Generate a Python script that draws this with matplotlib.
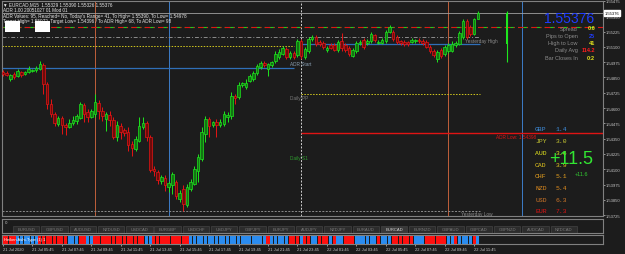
import numpy as np
import pandas as pd
import matplotlib
matplotlib.use("Agg")
import matplotlib.pyplot as plt
from matplotlib.patches import Rectangle

W, H = 625, 255
BG = "#1c1c1c"

# ---------------- data ----------------
bar_times = pd.date_range("2020-07-21 03:45", periods=130, freq="15min")
opens = [
    1.54895, 1.54886, 1.54837, 1.54878, 1.54862, 1.54895, 1.54878, 1.54895, 1.54903, 1.54911,
    1.54919, 1.54952, 1.54797, 1.54633, 1.54551, 1.54470, 1.54519, 1.54462, 1.54445, 1.54478,
    1.54494, 1.54519, 1.54625, 1.54568, 1.54527, 1.54551, 1.54641, 1.54576, 1.54511, 1.54543,
    1.54502, 1.54364, 1.54453, 1.54421, 1.54404, 1.54306, 1.54265, 1.54331, 1.54445, 1.54478,
    1.54364, 1.54102, 1.54078, 1.54004, 1.54029, 1.53955, 1.53971, 1.53996, 1.53857, 1.53939,
    1.53808, 1.53939, 1.53980, 1.54086, 1.54184, 1.54388, 1.54511, 1.54462, 1.54486, 1.54462,
    1.54470, 1.54527, 1.54535, 1.54699, 1.54690, 1.54788, 1.54772, 1.54821, 1.54837, 1.54886,
    1.54935, 1.54968, 1.54919, 1.54952, 1.54984, 1.55017, 1.55042, 1.55082, 1.55017, 1.55050,
    1.55033, 1.55148, 1.55017, 1.55066, 1.55164, 1.55181, 1.55140, 1.55132, 1.55074, 1.55115,
    1.55115, 1.55074, 1.55148, 1.55115, 1.55091, 1.55025, 1.55066, 1.55132, 1.55156, 1.55132,
    1.55148, 1.55197, 1.55132, 1.55132, 1.55148, 1.55221, 1.55221, 1.55181, 1.55148, 1.55140,
    1.55140, 1.55140, 1.55148, 1.55156, 1.55148, 1.55140, 1.55099, 1.55066, 1.55001, 1.55074,
    1.55042, 1.55066, 1.55066, 1.55115, 1.55123, 1.55181, 1.55311, 1.55262, 1.55205, 1.55329]
highs = [
    1.54911, 1.54903, 1.54878, 1.54895, 1.54919, 1.54903, 1.54903, 1.54944, 1.54919, 1.54944,
    1.54984, 1.54968, 1.54813, 1.54674, 1.54568, 1.54535, 1.54535, 1.54478, 1.54511, 1.54535,
    1.54551, 1.54649, 1.54641, 1.54592, 1.54592, 1.54715, 1.54666, 1.54609, 1.54568, 1.54576,
    1.54527, 1.54494, 1.54478, 1.54437, 1.54445, 1.54331, 1.54372, 1.54527, 1.54527, 1.54494,
    1.54380, 1.54127, 1.54094, 1.54053, 1.54053, 1.54004, 1.54078, 1.54012, 1.53931, 1.53971,
    1.53980, 1.54020, 1.54127, 1.54225, 1.54445, 1.54535, 1.54527, 1.54494, 1.54511, 1.54511,
    1.54576, 1.54568, 1.54731, 1.54715, 1.54813, 1.54813, 1.54837, 1.54878, 1.54903, 1.54960,
    1.54984, 1.54984, 1.54968, 1.54984, 1.55066, 1.55082, 1.55107, 1.55099, 1.55066, 1.55066,
    1.55164, 1.55164, 1.55099, 1.55181, 1.55197, 1.55197, 1.55156, 1.55148, 1.55107, 1.55132,
    1.55132, 1.55156, 1.55213, 1.55132, 1.55107, 1.55091, 1.55148, 1.55156, 1.55172, 1.55164,
    1.55221, 1.55205, 1.55156, 1.55172, 1.55238, 1.55279, 1.55238, 1.55197, 1.55156, 1.55156,
    1.55148, 1.55172, 1.55164, 1.55172, 1.55164, 1.55156, 1.55115, 1.55082, 1.55074, 1.55091,
    1.55115, 1.55132, 1.55148, 1.55148, 1.55230, 1.55328, 1.55328, 1.55279, 1.55336, 1.55390]
lows = [
    1.54862, 1.54862, 1.54821, 1.54837, 1.54854, 1.54854, 1.54870, 1.54886, 1.54895, 1.54895,
    1.54911, 1.54715, 1.54592, 1.54527, 1.54453, 1.54453, 1.54388, 1.54380, 1.54437, 1.54462,
    1.54470, 1.54511, 1.54486, 1.54486, 1.54519, 1.54527, 1.54511, 1.54494, 1.54413, 1.54453,
    1.54347, 1.54331, 1.54347, 1.54372, 1.54249, 1.54208, 1.54249, 1.54323, 1.54429, 1.54331,
    1.54078, 1.54045, 1.53980, 1.53980, 1.53922, 1.53914, 1.53898, 1.53857, 1.53832, 1.53759,
    1.53792, 1.53922, 1.53971, 1.53996, 1.54167, 1.54323, 1.54364, 1.54445, 1.54364, 1.54445,
    1.54453, 1.54486, 1.54511, 1.54633, 1.54674, 1.54772, 1.54756, 1.54813, 1.54821, 1.54870,
    1.54919, 1.54935, 1.54862, 1.54935, 1.54968, 1.55001, 1.55033, 1.55001, 1.55001, 1.55001,
    1.55017, 1.55001, 1.55001, 1.55050, 1.55148, 1.55107, 1.55107, 1.55082, 1.55058, 1.55082,
    1.55066, 1.55058, 1.55066, 1.55058, 1.55025, 1.55017, 1.55050, 1.55115, 1.55082, 1.55115,
    1.55132, 1.55140, 1.55123, 1.55123, 1.55132, 1.55213, 1.55148, 1.55123, 1.55115, 1.55107,
    1.55107, 1.55132, 1.55132, 1.55132, 1.55115, 1.55091, 1.55050, 1.55017, 1.54976, 1.55009,
    1.55025, 1.55050, 1.55058, 1.55099, 1.55115, 1.55164, 1.55164, 1.55189, 1.55197, 1.55326]
closes = [
    1.54878, 1.54870, 1.54870, 1.54854, 1.54903, 1.54870, 1.54895, 1.54919, 1.54911, 1.54927,
    1.54960, 1.54797, 1.54633, 1.54551, 1.54478, 1.54519, 1.54462, 1.54445, 1.54478, 1.54502,
    1.54535, 1.54633, 1.54551, 1.54527, 1.54576, 1.54649, 1.54576, 1.54535, 1.54551, 1.54502,
    1.54364, 1.54462, 1.54404, 1.54396, 1.54298, 1.54274, 1.54347, 1.54453, 1.54478, 1.54364,
    1.54094, 1.54086, 1.54012, 1.54037, 1.53971, 1.53988, 1.54061, 1.53882, 1.53906, 1.53816,
    1.53955, 1.53996, 1.54102, 1.54200, 1.54404, 1.54511, 1.54453, 1.54486, 1.54462, 1.54486,
    1.54551, 1.54543, 1.54699, 1.54682, 1.54788, 1.54805, 1.54805, 1.54862, 1.54886, 1.54944,
    1.54968, 1.54952, 1.54960, 1.54976, 1.55042, 1.55058, 1.55091, 1.55017, 1.55050, 1.55017,
    1.55148, 1.55025, 1.55082, 1.55164, 1.55181, 1.55123, 1.55123, 1.55099, 1.55091, 1.55091,
    1.55074, 1.55140, 1.55091, 1.55074, 1.55042, 1.55074, 1.55132, 1.55140, 1.55099, 1.55148,
    1.55205, 1.55156, 1.55140, 1.55156, 1.55221, 1.55262, 1.55164, 1.55140, 1.55132, 1.55123,
    1.55123, 1.55156, 1.55156, 1.55148, 1.55132, 1.55099, 1.55066, 1.55033, 1.55058, 1.55025,
    1.55099, 1.55115, 1.55123, 1.55132, 1.55213, 1.55311, 1.55181, 1.55205, 1.55329, 1.55376]

# daily candle drawn to the right of price
day_bar_time = "2020-07-22 14:00"
day_open, day_high, day_low, day_close = 1.55126, 1.55390, 1.54978, 1.55376

# heiken ashi colour runs (r = bearish red, b = bullish blue)
ha_runs = [("r", 4), ("b", 6), ("r", 8), ("b", 3), ("r", 2), ("b", 2), ("r", 14), ("b", 2),
           ("r", 10), ("b", 21), ("r", 1), ("b", 5), ("r", 3), ("b", 1), ("r", 2), ("b", 2),
           ("r", 3), ("b", 1), ("r", 1), ("b", 2), ("r", 3), ("b", 6), ("r", 1), ("b", 3),
           ("r", 6), ("b", 3), ("r", 6), ("b", 2), ("r", 1), ("b", 4), ("r", 1), ("b", 1)]

# levels
current_price = 1.55376
adr_high_level = 1.55262
yesterday_high = 1.55181
prev_r1 = 1.55107
prev_day_open = 1.54928
daily_pp = 1.54715
adr_low = 1.54398
yesterday_low = 1.53759

orange_times = ["2020-07-21 10:00", "2020-07-22 10:00"]
blue_times = ["2020-07-21 15:00", "2020-07-22 15:00"]
day_sep_time = "2020-07-22 00:00"
adr_low_label_time = "2020-07-22 16:00"

price_ticks = [1.53725, 1.53850, 1.53975, 1.54100, 1.54225, 1.54350, 1.54475, 1.54600,
               1.54725, 1.54850, 1.54975, 1.55100, 1.55225, 1.55350, 1.55475]

pairs = ["EURUSD", "GBPUSD", "AUDUSD", "NZDUSD", "USDCAD", "EURGBP", "USDCHF", "USDJPY",
         "GBPJPY", "EURJPY", "AUDJPY", "NZDJPY", "EURAUD", "EURCAD", "EURNZD", "GBPAUD",
         "GBPCAD", "GBPNZD", "AUDCAD", "NZDCAD"]
active_pair = "EURCAD"

ccy_names = ["GBP", "JPY", "AUD", "CAD", "CHF", "NZD", "USD", "EUR"]
ccy_values = [1.4, 3.0, 3.6, 3.9, 5.1, 5.4, 6.3, 7.3]
ccy_colors = ["#3f8fe0", "#c8c832", "#e6e61e", "#e6c81e", "#e6a01e", "#e08c1e", "#d27828", "#e01414"]

info_labels = ["Spread", "Pips to Open", "High to Low", "Daily Avg", "Bar Closes In"]
info_values = ["0.6", "25", "41", "114.2", "0:2"]
info_colors = ["#e6e61e", "#1e3cff", "#e6e61e", "#ff1e1e", "#e6e61e"]

header_lines = [
    "\u25bc EURCAD,M15  1.55329 1.55390 1.55326 1.55376",
    "ADR 1.00 20051027 01 Mod 01",
    "ADR Values: 95, Reached= No, Today's Range= 41, To High= 1.55390, To Low= 1.54978",
    "Target High= 1.55972, Target Low= 1.54396 / To ADR High= 68, To ADR Low= 98",
]

# ---------------- helpers ----------------
t0 = bar_times[0]
step = pd.Timedelta("15min")


def tindex(t):
    return (pd.Timestamp(t) - t0) / step


def fx(px):
    return px / W


def fy(py):
    return 1 - py / H


fig = plt.figure(figsize=(W / 100, H / 100), dpi=100, facecolor=BG)
XL = (-0.27, 163.0)
SPINE = "#808080"

# ---------------- main chart ----------------
ax = fig.add_axes([fx(2), fy(217), 601 / W, 215 / H])
ax.set_facecolor(BG)
ax.set_xlim(*XL)
ax.set_ylim(1.53718, 1.55475)
for s in ax.spines.values():
    s.set_color(SPINE)
    s.set_linewidth(0.8)

x = np.arange(len(opens))
o = np.array(opens); h = np.array(highs); l = np.array(lows); c = np.array(closes)
up = c >= o
wick_col = np.where(up, "#1ee61e", "#e61414")
face_col = np.where(up, "#127512", "#6e0a0a")
edge_col = np.where(up, "#1ee61e", "#e61414")
ax.vlines(x, l, h, colors=wick_col, linewidth=0.7, zorder=3)
ax.bar(x, np.maximum(np.abs(c - o), 0.00003), bottom=np.minimum(o, c), width=0.7,
       color=face_col, edgecolor=edge_col, linewidth=0.5, zorder=4)

# daily bar
di = tindex(day_bar_time)
ax.vlines([di], [day_low], [day_high], colors="#1ee61e", linewidth=0.8, zorder=3)
ax.bar([di], [day_close - day_open], bottom=[day_open], width=0.6, color="#1ee61e", zorder=4)

# vertical lines
for t in orange_times:
    ax.axvline(tindex(t), color="#c0603a", linewidth=0.7, zorder=1)
for t in blue_times:
    ax.axvline(tindex(t), color="#3c7cc8", linewidth=0.7, zorder=1)
ax.axvline(tindex(day_sep_time), color="#d0d0d0", linewidth=0.7, linestyle=(0, (2, 1.5)), zorder=1)

last = len(opens) - 1
sep = tindex(day_sep_time)
# horizontal levels
ax.axhline(current_price, color="#a0a0a0", linewidth=0.6, zorder=2)
ax.axhline(adr_high_level, color="#1ec81e", linewidth=0.8, linestyle=(0, (5, 3, 1, 3)), zorder=2)
ax.axhline(adr_high_level, color="#e01414", linewidth=0.8, linestyle=(4, (5, 3, 1, 3)), zorder=2)
ax.hlines(yesterday_high, XL[0], last + 0.5, color="#8c8c8c", linewidth=0.7,
          linestyle=(0, (4, 2, 1, 2)), zorder=2)
ax.hlines(prev_r1, XL[0], sep - 2, color="#d2c81e", linewidth=0.7, linestyle=(0, (1.5, 1.5)), zorder=2)
ax.hlines(prev_day_open, XL[0], sep - 2, color="#2f6fb8", linewidth=0.9, zorder=2)
ax.hlines(day_open, sep, last + 0.5, color="#2f6fb8", linewidth=0.9, zorder=2)
ax.hlines(daily_pp, sep, last + 0.5, color="#d2c81e", linewidth=0.7, linestyle=(0, (1.5, 1.5)), zorder=2)
ax.hlines(adr_low, sep, XL[1], color="#e01414", linewidth=1.0, zorder=2)
ax.hlines(yesterday_low, XL[0], last + 0.5, color="#8c8c8c", linewidth=0.7,
          linestyle=(0, (2, 1.5)), zorder=2)

lbl_kw = dict(fontsize=3.4, family="Liberation Sans", va="top", zorder=6)
ax.text(sep - 3, 1.54985, "ADR Start", color="#8aa0b4", **lbl_kw)
ax.text(sep - 3, daily_pp - 0.00008, "Daily PP", color="#7a7a7a", **lbl_kw)
ax.text(sep - 3, 1.54215, "Daily S1", color="#2e9a2e", **lbl_kw)
ax.text(last - 3.5, yesterday_high - 0.00010, "Yesterday High", color="#8c8c8c", **lbl_kw)
ax.text(last - 4.5, yesterday_low + 0.00000, "Yesterday Low", color="#8c8c8c", **lbl_kw)
ax.text(tindex(adr_low_label_time), adr_low - 0.00008, "ADR Low: 1.54398", color="#e01414",
        ha="right", **lbl_kw)

# right price axis
ax.yaxis.tick_right()
ax.set_yticks(price_ticks)
ax.set_yticklabels([f"{p:.5f}" for p in price_ticks], family="Liberation Sans")
ax.tick_params(axis="y", colors="#c8c8c8", labelsize=3.0, length=1.5, width=0.5, pad=0.8)
ax.set_xticks([])
ax.text(1.0025, current_price, f"{current_price:.5f}", transform=ax.get_yaxis_transform(),
        fontsize=3.0, color="black", va="center", ha="left", zorder=10, family="Liberation Sans",
        bbox=dict(boxstyle="square,pad=0.15", fc="white", ec="white"))

# header text
for k, line in enumerate(header_lines):
    fig.text(fx(3), fy(5 + 5.6 * k), line, fontsize=3.3, color="#e8e8e8",
             family="Liberation Sans", va="center", ha="left")
for bx in (5, 35):
    fig.patches.append(Rectangle((fx(bx), fy(33)), 15 / W, 11 / H, transform=fig.transFigure,
                                 fc="white", ec="none", zorder=20))

# info panel
fig.text(fx(594), fy(19), f"{current_price:.5f}", fontsize=10, color="#1e3cff",
         family="Liberation Sans", ha="right", va="center")
for k, (lab, val, col) in enumerate(zip(info_labels, info_values, info_colors)):
    yy = fy(29 + 7.3 * k)
    fig.text(fx(578), yy, lab, fontsize=4.0, color="#8c8c8c", family="Liberation Sans",
             ha="right", va="center")
    fig.text(fx(595), yy, val, fontsize=4.0, color=col, family="Liberation Sans",
             ha="right", va="center", weight="bold")

# currency strength
for k, (nm, v, col) in enumerate(zip(ccy_names, ccy_values, ccy_colors)):
    yy = fy(130 + 11.7 * k)
    fig.text(fx(535), yy, nm, fontsize=4.6, color=col, family="Liberation Mono",
             ha="left", va="center")
    fig.text(fx(556), yy, f"{v:.1f}", fontsize=4.6, color=col, family="Liberation Mono",
             ha="left", va="center")
fig.text(fx(571), fy(160), "+11.5", fontsize=13, color="#32e632", family="Liberation Sans",
         ha="center", va="center")
fig.text(fx(582), fy(175), "+11.6", fontsize=4.0, color="#32c832", family="Liberation Sans",
         ha="center", va="center")

# ---------------- pair tabs window ----------------
axt = fig.add_axes([fx(2), fy(234), 601 / W, 14 / H])
axt.set_facecolor(BG)
axt.set_xlim(-0.389, 20.85)
axt.set_ylim(0, 1)
axt.set_xticks([]); axt.set_yticks([])
for s in axt.spines.values():
    s.set_color(SPINE); s.set_linewidth(0.8)
for k, p in enumerate(pairs):
    active = p == active_pair
    axt.add_patch(Rectangle((k, 0.02), 0.93, 0.5, fc="#383838" if active else "#2c2c2c",
                            ec="#4a4a4a", lw=0.4))
    axt.text(k + 0.465, 0.27, p, fontsize=3.0, color="#d8d8d8" if active else "#7c7c7c",
             ha="center", va="center", family="Liberation Sans")
axt.text(0.004, 0.82, "0", transform=axt.transAxes, fontsize=2.8, color="#c8c8c8", va="center")

# ---------------- heiken ashi window ----------------
axh = fig.add_axes([fx(2), fy(245), 601 / W, 9 / H])
axh.set_facecolor(BG)
axh.set_xlim(*XL)
axh.set_ylim(0, 1)
for s in axh.spines.values():
    s.set_color(SPINE); s.set_linewidth(0.8)
ha_cols = []
for colr, n in ha_runs:
    ha_cols += [("#ff1010" if colr == "r" else "#2a8cf0")] * n
axh.bar(x, np.ones(len(x)), width=0.85, bottom=0, color=ha_cols, linewidth=0)
axh.set_yticks([])
axh.text(0.003, 0.5, "Heiken Ashi-Type (1) 1", transform=axh.transAxes, fontsize=3.0,
         color="white", va="center", ha="left", family="Liberation Sans")

tick_pos = np.arange(0, len(x), 8)
tick_lab = []
for i in tick_pos:
    t = bar_times[i]
    tick_lab.append("21 Jul 2020" if i == 0 else t.strftime("%d %b %H:%M"))
axh.set_xticks(tick_pos)
axh.set_xticklabels(tick_lab, family="Liberation Sans")
axh.tick_params(axis="x", colors="#c8c8c8", labelsize=2.9, length=1.5, width=0.5, pad=1)
for lb in axh.get_xticklabels():
    lb.set_ha("left")

fig.savefig("out.png", dpi=100, facecolor=BG)
